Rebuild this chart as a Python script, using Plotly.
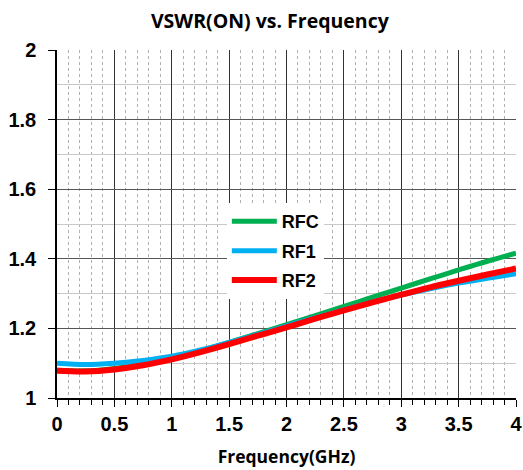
import plotly.graph_objects as go

freq = [0, 0.25, 0.5, 0.75, 1, 1.25, 1.5, 1.75, 2, 2.25, 2.5, 2.75, 3, 3.25, 3.5, 3.75, 4]
rfc = [1.080, 1.078, 1.085, 1.098, 1.115, 1.136, 1.160, 1.185, 1.211, 1.237, 1.263, 1.290, 1.316, 1.342, 1.368, 1.393, 1.416]
rf1 = [1.100, 1.096, 1.100, 1.108, 1.120, 1.138, 1.160, 1.183, 1.207, 1.231, 1.254, 1.276, 1.296, 1.314, 1.330, 1.344, 1.357]
rf2 = [1.078, 1.076, 1.082, 1.094, 1.111, 1.132, 1.155, 1.179, 1.203, 1.228, 1.252, 1.275, 1.297, 1.318, 1.337, 1.355, 1.372]

x_ticks = [0, 0.5, 1, 1.5, 2, 2.5, 3, 3.5, 4]
x_tick_labels = ["0", "0.5", "1", "1.5", "2", "2.5", "3", "3.5", "4"]
y_ticks = [1, 1.2, 1.4, 1.6, 1.8, 2]
y_tick_labels = ["1", "1.2", "1.4", "1.6", "1.8", "2"]

series = [("RFC", rfc, "#00B050", 5), ("RF1", rf1, "#00B0F0", 5), ("RF2", rf2, "#FF0000", 6)]

fig = go.Figure()
for name, ys, col, w in series:
    fig.add_trace(go.Scatter(x=freq, y=ys, name="<b>%s</b>" % name, mode="lines",
                             legendgroup=name,
                             line=dict(color=col, width=w, shape="spline")))

tick_font = dict(family="Liberation Sans", size=20, color="black", weight="bold")
fig.update_layout(
    width=523, height=470,
    margin=dict(l=57, r=7, t=50, b=72),
    paper_bgcolor="white", plot_bgcolor="white",
    title=dict(text="<b>VSWR(ON) vs. Frequency</b>", x=0.516, xanchor="center", y=0.955, yanchor="middle",
               font=dict(family="Open Sans", size=19.5, color="black", weight="bold")),
    legend=dict(x=0.37, y=0.56, xanchor="left", yanchor="top", bgcolor="white",
                font=dict(family="Liberation Sans", size=18, color="black"),
                tracegroupgap=3, itemwidth=45),
    showlegend=True,
)
fig.update_xaxes(
    range=[0, 4], tickvals=x_ticks, ticktext=x_tick_labels,
    tickfont=tick_font, showgrid=True, gridcolor="#333333", gridwidth=1,
    showline=True, linecolor="black", linewidth=1.5, zeroline=False, automargin=False,
    ticks="outside", ticklen=7, tickcolor="black",
    minor=dict(dtick=0.1, showgrid=True, gridcolor="#b0b0b0", griddash="dot", gridwidth=1,
               ticks="outside", ticklen=5, tickcolor="black"),
    title=dict(text="<b>Frequency(GHz)</b>", font=dict(family="Open Sans", size=17.5, color="black", weight="bold"), standoff=17),
)
fig.update_yaxes(
    range=[1, 2], tickvals=y_ticks, ticktext=y_tick_labels,
    tickfont=tick_font, showgrid=True, gridcolor="#555555", gridwidth=1,
    showline=True, linecolor="black", linewidth=1.5, zeroline=False, automargin=False,
    ticks="outside", ticklen=7, tickcolor="black", ticklabelstandoff=8,
    minor=dict(dtick=0.1, showgrid=True, gridcolor="#c8c8c8", gridwidth=1),
)

fig.write_html("out.html")
